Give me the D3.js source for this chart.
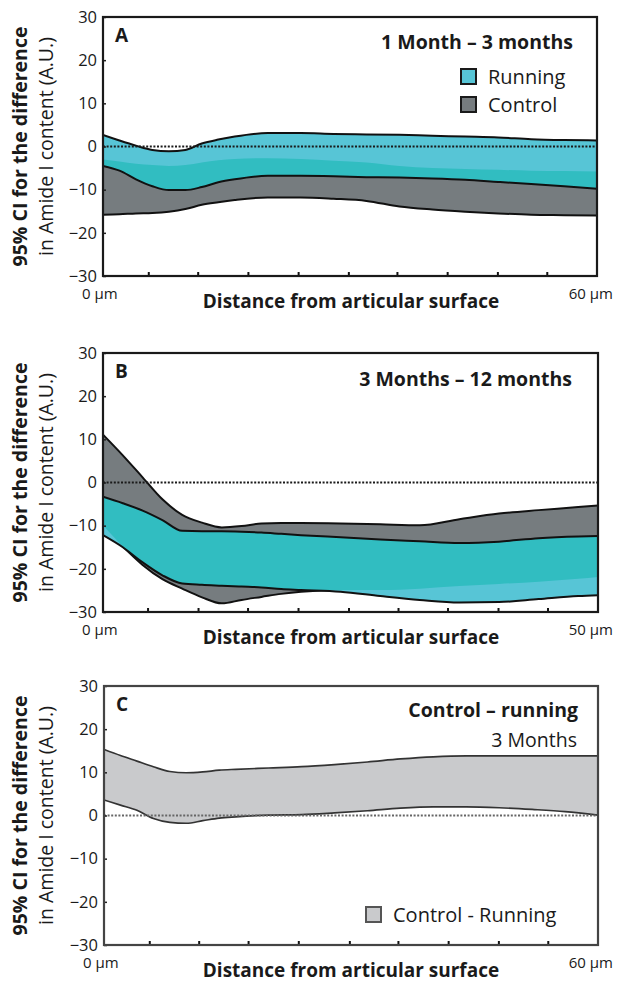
<!DOCTYPE html>
<html><head><meta charset="utf-8">
<script src="https://cdn.jsdelivr.net/npm/d3@7"></script>
<style>
body{margin:0;background:#fff}
svg{display:block}
text{font-family:"Open Sans",sans-serif;fill:#1a1a1a}
</style>
</head><body>
<svg id="chart" width="617" height="982"></svg>
<script>
// ---------- data ----------
const yTicks = [-30, -20, -10, 0, 10, 20, 30];

// Panel A: 1 Month – 3 months (x in µm)
const xA = [0, 2, 4, 6, 8, 10, 12, 14, 16, 20, 24, 28, 32, 36, 40, 44, 48, 52, 56, 60];
const runHiA  = [2.7, 1.4, 0.2, -0.8, -1.1, -0.8, 0.7, 1.6, 2.3, 3.1, 3.1, 2.9, 2.8, 2.7, 2.5, 2.3, 2.1, 1.7, 1.5, 1.4];
const runLoA  = [-4.5, -5.6, -7.6, -9.2, -10.1, -10.1, -9.4, -8.3, -7.6, -6.8, -6.8, -6.9, -7.1, -7.2, -7.4, -7.7, -8.2, -8.7, -9.2, -9.8];
const ctrlHiA = [-3.0, -3.5, -4.0, -4.3, -4.5, -4.3, -3.7, -3.2, -2.9, -2.7, -2.9, -3.3, -3.7, -4.5, -5.0, -5.2, -5.4, -5.6, -5.7, -5.8];
const ctrlLoA = [-15.8, -15.7, -15.5, -15.4, -15.1, -14.5, -13.5, -12.9, -12.4, -11.8, -11.8, -12.1, -12.6, -13.9, -14.6, -15.1, -15.5, -15.8, -15.9, -16.0];
const xTicksA = [5.5, 11.5, 17.6, 23.7, 29.8, 35.7, 41.8, 47.9, 53.9];

// Panel B: 3 Months – 12 months
const xB = [0, 2, 4, 6, 8, 10, 12, 14, 16, 18, 20, 24, 28, 32, 36, 40, 44, 48, 50];
const ctrlHiB = [11.1, 6.3, 1.2, -3.9, -7.5, -9.3, -10.4, -10.1, -9.5, -9.4, -9.4, -9.5, -9.7, -9.9, -8.5, -7.2, -6.4, -5.7, -5.3];
const runHiB  = [-3.3, -4.8, -6.5, -8.7, -11.2, -11.3, -11.3, -11.4, -11.6, -11.9, -12.2, -12.7, -13.2, -13.6, -14.0, -13.7, -12.9, -12.5, -12.4];
const ctrlLoB = [-9.9, -14.8, -19.1, -22.4, -24.6, -26.6, -28.0, -27.2, -26.5, -25.8, -25.3, -24.9, -24.9, -24.6, -24.0, -23.5, -23.0, -22.3, -21.9];
const runLoB  = [-12.2, -15.0, -18.5, -21.5, -23.4, -23.7, -23.9, -24.1, -24.3, -24.7, -24.9, -25.3, -26.3, -27.2, -27.8, -27.7, -27.0, -26.3, -26.1];
const xTicksB = [4.5, 9.6, 14.6, 19.7, 24.8, 29.8, 34.8, 39.9, 44.9];

// Panel C: Control – running, 3 Months
const xC = [0, 2, 4, 6, 8, 10, 12, 14, 16, 20, 24, 28, 32, 36, 40, 44, 48, 52, 56, 60];
const diffHiC = [15.3, 13.9, 12.6, 11.3, 10.2, 9.9, 10.1, 10.5, 10.7, 11.0, 11.3, 11.8, 12.4, 13.1, 13.6, 13.8, 13.8, 13.8, 13.8, 13.8];
const diffLoC = [3.6, 2.4, 1.2, -0.7, -1.6, -1.8, -1.2, -0.6, -0.3, 0.1, 0.2, 0.6, 1.1, 1.7, 2.0, 2.0, 1.8, 1.4, 0.9, 0.1];
const xTicksC = [5.5, 11.5, 17.5, 23.6, 29.8, 35.7, 41.8, 47.9, 53.9];

// ---------- styles ----------
const COL_RUN = "#57c5d6", COL_OVER = "#31bdc1", COL_CTRL = "#767c7f", COL_DIFF = "#c9cacc";

const svg = d3.select("#chart");
const defs = svg.append("defs");

function drawPanel(p) {
  const g = svg.append("g");
  const x = d3.scaleLinear().domain([0, p.xMax]).range([p.left, p.right]);
  const y = d3.scaleLinear().domain([-30, 30]).range([p.bottom, p.top]);
  const curve = d3.curveMonotoneX;
  const areaGen = (lo, hi) => d3.area().x((d, i) => x(p.xs[i])).y0((d, i) => y(lo[i])).y1((d, i) => y(hi[i])).curve(curve)(p.xs);
  const lineGen = (arr) => d3.line().x((d, i) => x(p.xs[i])).y((d, i) => y(arr[i])).curve(curve)(p.xs);

  defs.append("clipPath").attr("id", "plot" + p.id)
    .append("rect").attr("x", p.left).attr("y", p.top).attr("width", p.right - p.left).attr("height", p.bottom - p.top);
  const pl = g.append("g").attr("clip-path", `url(#plot${p.id})`);

  if (p.type === "two") {
    pl.append("path").attr("d", areaGen(p.ctrlLo, p.ctrlHi)).attr("fill", COL_CTRL);
    pl.append("path").attr("d", lineGen(p.ctrlHi)).attr("fill", "none").attr("stroke", "#111").attr("stroke-width", 2);
    pl.append("path").attr("d", lineGen(p.ctrlLo)).attr("fill", "none").attr("stroke", "#111").attr("stroke-width", 2);
    pl.append("path").attr("d", areaGen(p.runLo, p.runHi)).attr("fill", COL_RUN);
    defs.append("clipPath").attr("id", "run" + p.id).append("path").attr("d", areaGen(p.runLo, p.runHi));
    pl.append("path").attr("d", areaGen(p.ctrlLo, p.ctrlHi)).attr("fill", COL_OVER).attr("clip-path", `url(#run${p.id})`);
    pl.append("path").attr("d", lineGen(p.runHi)).attr("fill", "none").attr("stroke", "#111").attr("stroke-width", 2);
    pl.append("path").attr("d", lineGen(p.runLo)).attr("fill", "none").attr("stroke", "#111").attr("stroke-width", 2);
  } else {
    pl.append("path").attr("d", areaGen(p.lo, p.hi)).attr("fill", COL_DIFF);
    pl.append("path").attr("d", lineGen(p.hi)).attr("fill", "none").attr("stroke", "#333").attr("stroke-width", 1.7);
    pl.append("path").attr("d", lineGen(p.lo)).attr("fill", "none").attr("stroke", "#333").attr("stroke-width", 1.7);
  }
  // zero dotted line
  g.append("line").attr("x1", p.left).attr("x2", p.right).attr("y1", y(0)).attr("y2", y(0))
    .attr("stroke", p.type === "two" ? "#1a1a1a" : "#666").attr("stroke-width", 2).attr("stroke-dasharray", "2,1.6");

  // axes
  const ya = g.append("g").attr("transform", `translate(${p.left},0)`)
    .call(d3.axisLeft(y).tickValues(yTicks).tickSize(-3).tickPadding(6));
  ya.select(".domain").remove();
  ya.selectAll("line").attr("stroke", "#222").attr("stroke-width", 1.5);
  ya.selectAll("text").attr("font-size", 16.5).attr("fill", "#1a1a1a").style("font-family", '"Open Sans", sans-serif');

  const xa = g.append("g").attr("transform", `translate(0,${p.bottom})`)
    .call(d3.axisBottom(x).tickValues(p.xTicks).tickSize(-4).tickFormat(""));
  xa.select(".domain").remove();
  xa.selectAll("line").attr("stroke", "#111").attr("stroke-width", 2);

  // frame
  g.append("rect").attr("x", p.left).attr("y", p.top).attr("width", p.right - p.left).attr("height", p.bottom - p.top)
    .attr("fill", "none").attr("stroke", p.type === "two" ? "#1a1a1a" : "#444").attr("stroke-width", 2.2);

  // panel letter
  g.append("text").attr("x", p.left + 12).attr("y", p.top + 25).attr("font-size", 19).attr("font-weight", 700).text(p.letter);

  // titles
  g.append("text").attr("x", p.titleX).attr("y", p.top + p.titleDy).attr("text-anchor", "end")
    .attr("font-size", 19.5).attr("font-weight", 700).text(p.title);
  if (p.subtitle) {
    g.append("text").attr("x", p.titleX - 1).attr("y", p.top + p.titleDy + 30).attr("text-anchor", "end")
      .attr("font-size", 19.5).text(p.subtitle);
  }

  // x labels
  g.append("text").attr("x", p.left - 21).attr("y", p.bottom + 23).attr("font-size", 15).text("0 µm");
  g.append("text").attr("x", 613).attr("y", p.bottom + 23).attr("text-anchor", "end").attr("font-size", 15).text(p.xMax + " µm");
  g.append("text").attr("x", 351).attr("y", p.bottom + 32).attr("text-anchor", "middle")
    .attr("font-size", 19).attr("font-weight", 700).text("Distance from articular surface");

  // y title
  const cy = (p.top + p.bottom) / 2;
  g.append("text").attr("transform", `translate(27,${cy}) rotate(-90)`).attr("text-anchor", "middle")
    .attr("font-size", 19.5).attr("font-weight", 700).text("95% CI for the difference");
  g.append("text").attr("transform", `translate(53,${cy}) rotate(-90)`).attr("text-anchor", "middle")
    .attr("font-size", 19.5).text("in Amide I content (A.U.)");

  // legend
  p.legend.forEach((L) => {
    g.append("rect").attr("x", L.x).attr("y", L.y).attr("width", 15).attr("height", 15)
      .attr("fill", L.fill).attr("stroke", L.stroke).attr("stroke-width", 2);
    g.append("text").attr("x", L.x + 27).attr("y", L.y + 15).attr("font-size", 20).text(L.label);
  });
}

drawPanel({
  id: "A", type: "two", letter: "A", xs: xA, xMax: 60, xTicks: xTicksA,
  runHi: runHiA, runLo: runLoA, ctrlHi: ctrlHiA, ctrlLo: ctrlLoA,
  left: 103, right: 597, top: 17, bottom: 276,
  title: "1 Month – 3 months", titleX: 573, titleDy: 32,
  legend: [
    {x: 461, y: 69, fill: COL_RUN, stroke: "#1a1a1a", label: "Running"},
    {x: 461, y: 97, fill: COL_CTRL, stroke: "#1a1a1a", label: "Control"}
  ]
});
drawPanel({
  id: "B", type: "two", letter: "B", xs: xB, xMax: 50, xTicks: xTicksB,
  runHi: runHiB, runLo: runLoB, ctrlHi: ctrlHiB, ctrlLo: ctrlLoB,
  left: 103, right: 598, top: 353, bottom: 612,
  title: "3 Months – 12 months", titleX: 572, titleDy: 33,
  legend: []
});
drawPanel({
  id: "C", type: "one", letter: "C", xs: xC, xMax: 60, xTicks: xTicksC,
  hi: diffHiC, lo: diffLoC,
  left: 104, right: 598, top: 686, bottom: 945,
  title: "Control – running", subtitle: "3 Months", titleX: 578, titleDy: 31,
  legend: [
    {x: 366, y: 907, fill: COL_DIFF, stroke: "#555", label: "Control - Running"}
  ]
});
</script>
</body></html>
